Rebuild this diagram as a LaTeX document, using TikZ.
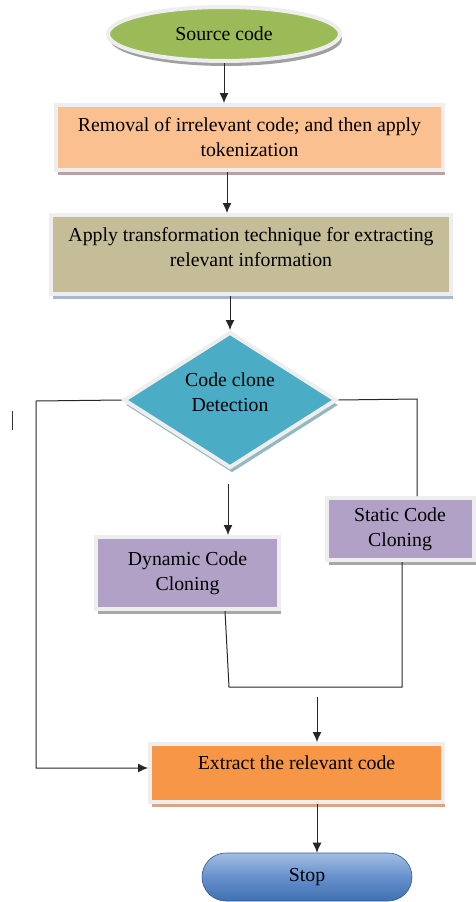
\documentclass[tikz,border=0pt]{standalone}
\usepackage{fontspec}
\setmainfont{Liberation Serif}
\usetikzlibrary{shapes.geometric,shapes.misc,arrows.meta,shadows,calc}
\definecolor{cgreen}{HTML}{9BBB59}
\definecolor{cpeach}{HTML}{FAC090}
\definecolor{ctan}{HTML}{C4BD97}
\definecolor{cteal}{HTML}{4BACC6}
\definecolor{clav}{HTML}{B2A1C7}
\definecolor{corange}{HTML}{F79646}
\definecolor{cbluelight}{HTML}{A3BEE3}
\definecolor{cbluemid}{HTML}{6690CC}
\definecolor{cbluedark}{HTML}{3F71B0}
\definecolor{cframe}{HTML}{EEEEEE}
\definecolor{shpeach}{HTML}{BFA0A0}
\definecolor{shtan}{HTML}{A9B8D2}
\definecolor{shteal}{HTML}{93B8C2}
\definecolor{shlav}{HTML}{A8A8A8}
\definecolor{shorange}{HTML}{D8A683}
\definecolor{shgreen}{HTML}{A0A0A0}
\begin{document}
\begin{tikzpicture}[x=1pt,y=-1pt,
  txt/.style={font=\fontsize{19.8}{25}\selectfont, align=center, text=black},
  boxbase/.style={rectangle, txt, draw=cframe, line width=4pt, inner sep=0pt},
  bshadow/.style={drop shadow={shadow xshift=2pt, shadow yshift=-5pt, fill=#1, opacity=1}},
  conn/.style={draw=black!85, line width=1pt},
  arr/.style={conn, -{Latex[length=10pt,width=9pt]}}
]
\useasboundingbox (0,0) rectangle (475,902);

% Source code
\node[ellipse, txt, fill=cgreen, draw=cframe, line width=4pt, minimum width=232pt, minimum height=54pt, inner sep=0pt,
  bshadow=shgreen] (src) at (224,34) {Source code};

% Box 1
\node[boxbase, fill=cpeach, bshadow=shpeach, minimum width=387pt, minimum height=65pt]
  (b1) at (249.5,137.5) {Removal of irrelevant code; and then apply\\tokenization};

% Box 2
\node[boxbase, fill=ctan, bshadow=shtan, minimum width=400pt, minimum height=79pt]
  (b2) at (251,254.5) {Apply transformation technique for extracting\\relevant information\\[-11pt]\mbox{}};

% Diamond
\node[diamond, txt, fill=cteal, draw=cframe, line width=4pt, inner sep=0pt, aspect=1.57,
  minimum width=213pt, minimum height=136pt, bshadow=shteal] (dia) at (230,400)
  {Code clone\\Detection\\[-9pt]\mbox{}};

% Dynamic / Static
\node[boxbase, fill=clav, bshadow=shlav, minimum width=183pt, minimum height=72pt]
  (dyn) at (187.5,573) {Dynamic Code\\Cloning};
\node[boxbase, fill=clav, bshadow=shlav, minimum width=147pt, minimum height=62pt]
  (stat) at (400,529) {Static Code\\Cloning};

% Extract
\node[boxbase, fill=corange, bshadow=shorange, minimum width=293pt, minimum height=58pt]
  (ext) at (296.5,773) {Extract the relevant code\\[-5pt]\mbox{}};

% Stop
\node[rounded rectangle, txt, top color=cbluelight, bottom color=cbluedark, middle color=cbluemid,
  draw=cbluedark!80!black, line width=0.6pt, minimum width=210pt, minimum height=48pt, inner sep=0pt]
  (stop) at (307,877) {Stop};

% helper coordinates
\coordinate (x227) at (227,0);
\coordinate (x228) at (228,0);
\coordinate (x317) at (317,0);
\coordinate (x417) at (417,0);
\coordinate (x402) at (402,0);
\coordinate (x225) at (225,0);
\coordinate (lft) at (36,401);
\coordinate (rgt) at (417,399);
\coordinate (dynb) at (229,687);
\coordinate (join) at (317,697);

% Connectors
\draw[arr] (src.south) -- (src.south |- b1.north);
\draw[arr] (b1.south -| x227) -- (b2.north -| x227);
\draw[arr] (b2.south -| dia.north) -- (dia.north);
\draw[arr] ($(dia.south -| x228)+(0,14)$) -- (dyn.north -| x228);
\draw[arr] (dia.west) -- (lft) -- ($(lft |- ext.west)+(0,-5)$) -- ($(ext.west)+(0,-5)$);
\draw[conn] (dia.east) -- (rgt) -- (stat.north -| x417);
\draw[conn] (dyn.south -| x225) -- (dynb) -- (dynb -| x402) -- (stat.south -| x402);
\draw[arr] (join) -- (ext.north -| x317);
\draw[arr] (ext.south -| x317) -- (stop.north -| x317);

% stray mark
\draw[line width=1pt, black!80] (12,411) -- (12,430);
\end{tikzpicture}
\end{document}
